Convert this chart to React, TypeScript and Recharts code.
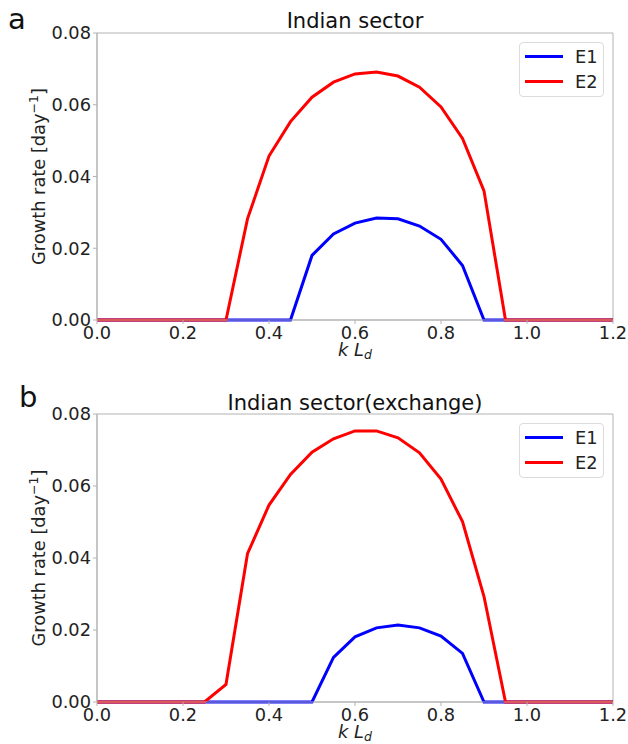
// Growth rate vs k L_d for the Indian sector, two panels (recharts).

import { LineChart, Line, XAxis, YAxis, ReferenceArea, Legend } from "recharts"

const kValues = [
  0.0, 0.05, 0.1, 0.15, 0.2, 0.25, 0.3, 0.35, 0.4, 0.45, 0.5, 0.55, 0.6, 0.65, 0.7, 0.75, 0.8,
  0.85, 0.9, 0.95, 1.0, 1.05, 1.1, 1.15, 1.2,
]

const e1Indian = [
  0, 0, 0, 0, 0, 0, 0, 0, 0, 0, 0.018, 0.024, 0.027, 0.0284, 0.0282, 0.0262, 0.0225, 0.0152, 0,
  0, 0, 0, 0, 0, 0,
]
const e2Indian = [
  0, 0, 0, 0, 0, 0, 0, 0.0282, 0.0457, 0.0553, 0.0621, 0.0663, 0.0686, 0.0691, 0.068, 0.0649,
  0.0594, 0.0506, 0.036, 0, 0, 0, 0, 0, 0,
]

const e1Exchange = [
  0, 0, 0, 0, 0, 0, 0, 0, 0, 0, 0, 0.0124, 0.0181, 0.0206, 0.0214, 0.0206, 0.0183, 0.0135, 0, 0,
  0, 0, 0, 0, 0,
]
const e2Exchange = [
  0, 0, 0, 0, 0, 0, 0.0049, 0.0412, 0.0547, 0.0632, 0.0694, 0.0731, 0.0753, 0.0753, 0.0734,
  0.0692, 0.0619, 0.0501, 0.0293, 0, 0, 0, 0, 0, 0,
]

const xTicks = [0, 0.2, 0.4, 0.6, 0.8, 1.0, 1.2]
const yTicks = [0, 0.02, 0.04, 0.06, 0.08]

const FONT = "'DejaVu Sans', sans-serif"
const SPINE = "#b3b3b3"
const FS = 17.8

function YTitle({ viewBox }: any) {
  const cy = viewBox.y + viewBox.height / 2
  const x = 45
  return (
    <text
      x={x}
      y={cy}
      transform={`rotate(-90 ${x} ${cy})`}
      textAnchor="middle"
      fontSize={FS}
      fontFamily={FONT}
      fill="#222"
    >
      Growth rate [day
      <tspan dy={-7} fontSize={12.5}>
        −1
      </tspan>
      <tspan dy={7}>]</tspan>
    </text>
  )
}

function XTitle({ viewBox }: any) {
  const cx = viewBox.x + viewBox.width / 2
  return (
    <text
      x={cx}
      y={viewBox.y + 36}
      textAnchor="middle"
      fontSize={FS}
      fontFamily={FONT}
      fontStyle="italic"
      fill="#222"
    >
      k L
      <tspan dy={3} fontSize={12.5}>
        d
      </tspan>
    </text>
  )
}

function LegendBox() {
  const items = [
    { name: "E1", color: "#0000ff" },
    { name: "E2", color: "#ff0000" },
  ]
  return (
    <div
      style={{
        width: 85,
        height: 55,
        boxSizing: "border-box",
        border: "1px solid #dcdcdc",
        borderRadius: 4,
        background: "#fff",
        position: "relative",
        fontFamily: FONT,
      }}
    >
      {items.map((it, i) => (
        <div
          key={it.name}
          style={{
            position: "absolute",
            left: 5,
            top: 3 + i * 25,
            height: 20,
            display: "flex",
            alignItems: "center",
          }}
        >
          <span style={{ display: "inline-block", width: 38, height: 3, background: it.color }} />
          <span style={{ marginLeft: 12, fontSize: FS, color: "#222" }}>{it.name}</span>
        </div>
      ))}
    </div>
  )
}

function Panel({
  e1,
  e2,
  height,
  top,
  bottom,
  legendTop,
}: {
  e1: number[]
  e2: number[]
  height: number
  top: number
  bottom: number
  legendTop: number
}) {
  const data = kValues.map((k, i) => ({ k, e1: e1[i], e2: e2[i] }))
  return (
    <LineChart
      width={628}
      height={height}
      data={data}
      margin={{ top, right: 15, bottom, left: 0 }}
    >
      <XAxis
        dataKey="k"
        type="number"
        domain={[0, 1.2]}
        ticks={xTicks}
        tickFormatter={(v) => Number(v).toFixed(1)}
        height={40}
        tickSize={4}
        tickMargin={2}
        axisLine={{ stroke: SPINE }}
        tickLine={{ stroke: SPINE }}
        tick={{ fontSize: FS, fill: "#222", fontFamily: FONT }}
        interval={0}
        label={<XTitle />}
      />
      <YAxis
        type="number"
        domain={[0, 0.08]}
        ticks={yTicks}
        tickFormatter={(v) => Number(v).toFixed(2)}
        width={97}
        tickSize={4}
        tickMargin={2}
        axisLine={{ stroke: SPINE }}
        tickLine={{ stroke: SPINE }}
        tick={{ fontSize: FS, fill: "#222", fontFamily: FONT }}
        interval={0}
        label={<YTitle />}
      />
      <ReferenceArea
        x1={0}
        x2={1.2}
        y1={0}
        y2={0.08}
        fill="none"
        stroke={SPINE}
        strokeWidth={1}
        ifOverflow="visible"
      />
      <Line
        type="linear"
        dataKey="e1"
        name="E1"
        stroke="#0000ff"
        strokeWidth={3}
        dot={false}
        isAnimationActive={false}
      />
      <Line
        type="linear"
        dataKey="e2"
        name="E2"
        stroke="#ff0000"
        strokeWidth={3}
        dot={false}
        isAnimationActive={false}
      />
      <Legend
        layout="horizontal"
        verticalAlign="middle"
        align="center"
        content={() => <LegendBox />}
        wrapperStyle={{ left: 519, top: legendTop, width: 85, height: 55 }}
      />
    </LineChart>
  )
}

export default function App() {
  return (
    <div
      style={{
        position: "absolute",
        left: 0,
        top: 0,
        width: 628,
        height: 744,
        background: "#fff",
        fontFamily: FONT,
      }}
    >
      <div style={{ position: "absolute", left: 0, top: 0 }}>
        <Panel e1={e1Indian} e2={e2Indian} height={370} top={33} bottom={10} legendTop={42} />
      </div>
      <div style={{ position: "absolute", left: 0, top: 380 }}>
        <Panel e1={e1Exchange} e2={e2Exchange} height={364} top={34} bottom={2} legendTop={43} />
      </div>
      <svg
        width={628}
        height={744}
        style={{ position: "absolute", left: 0, top: 0, pointerEvents: "none" }}
      >
        <g fontFamily={FONT} fill="#111">
          <text x={8} y={29} fontSize={29}>
            a
          </text>
          <text x={355} y={28} fontSize={21} textAnchor="middle">
            Indian sector
          </text>
          <text x={19} y={407} fontSize={29}>
            b
          </text>
          <text x={355} y={410} fontSize={21} textAnchor="middle">
            Indian sector(exchange)
          </text>
        </g>
      </svg>
    </div>
  )
}
